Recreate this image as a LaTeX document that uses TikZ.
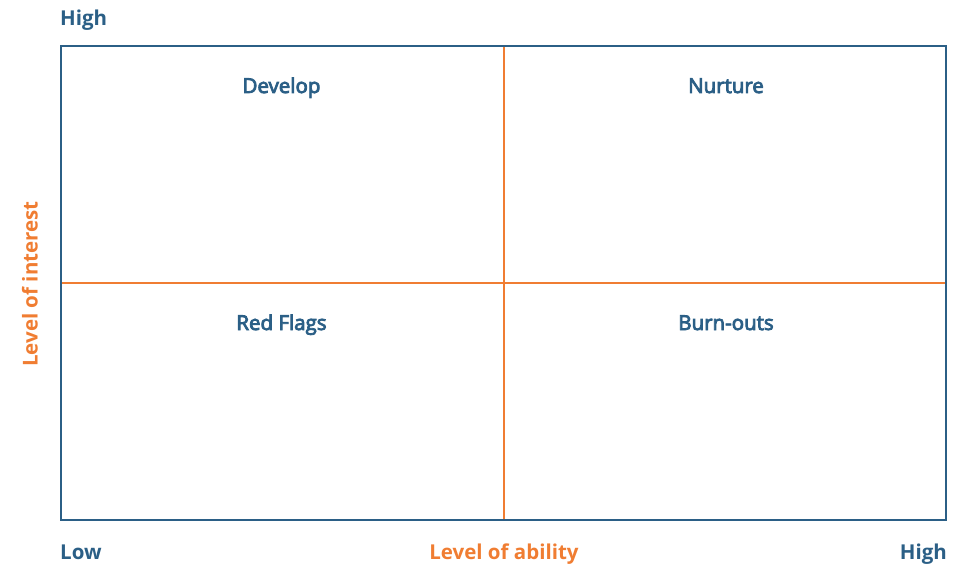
\documentclass[tikz,border=0pt]{standalone}
\usepackage{fontspec}
\setmainfont{Open Sans}
\IfFontExistsTF{Open Sans SemiBold}{\newfontfamily\semib{Open Sans SemiBold}}{\newfontfamily\semib{Open Sans}[FakeBold=4]}
\definecolor{navy}{HTML}{2B5F86}
\definecolor{orng}{HTML}{F07D32}
\begin{document}
\begin{tikzpicture}[x=1pt,y=1pt,
  axislbl/.style={font=\fontsize{20.5}{24}\selectfont\bfseries, text=navy, inner sep=0pt, anchor=base},
  axisttl/.style={font=\fontsize{20.5}{24}\selectfont\bfseries, text=orng, inner sep=0pt},
  quadlbl/.style={font=\fontsize{20.5}{24}\selectfont\semib, text=navy, inner sep=0pt, anchor=base}]
\useasboundingbox (0,0) rectangle (968,563);
\coordinate (bl) at (61,43);
\coordinate (tr) at (946,517);
\coordinate (mt) at (504,517);
\coordinate (mb) at (504,43);
\coordinate (ml) at (61,280);
\coordinate (mr) at (946,280);
\draw[orng, line width=1.5pt] (mt) -- (mb);
\draw[orng, line width=1.5pt] (ml) -- (mr);
\draw[navy, line width=2pt] (bl) rectangle (tr);
\node[quadlbl] (dev) at (281.5,470) {Develop};
\node[quadlbl] (nur) at (726,470) {Nurture};
\node[quadlbl] (red) at (281.5,233) {Red Flags};
\node[quadlbl] (burn) at (726,233) {Burn-outs};
\node[axislbl, anchor=base west] (hightop) at (60,537) {High};
\node[axislbl, anchor=base west] (low) at (60,4) {Low};
\node[axislbl, anchor=base east] (highright) at (947,4) {High};
\node[axisttl, anchor=base] (abil) at (504,4) {Level of ability};
\node[axisttl, rotate=90] (inter) at (30,279) {Level of interest};
\end{tikzpicture}
\end{document}
